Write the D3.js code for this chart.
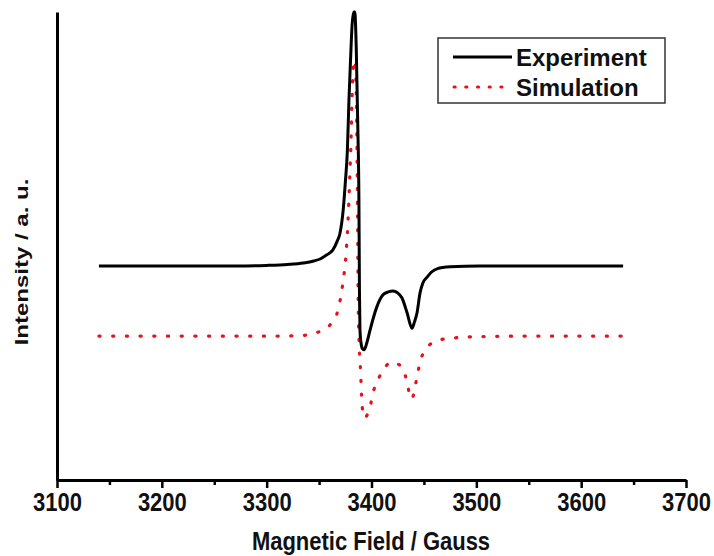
<!DOCTYPE html>
<html>
<head>
<meta charset="utf-8">
<script src="https://cdn.jsdelivr.net/npm/d3@7"></script>
<style>
  html, body { margin: 0; padding: 0; background: #fff; }
  svg { display: block; }
  text { font-family: "Liberation Sans", Arial, sans-serif; font-weight: bold; }
</style>
</head>
<body>
<svg id="chart" width="714" height="556"></svg>
<script>
// Magnetic field (Gauss) and intensity (a.u.)
const expField = [3140, 3200, 3250, 3280, 3300, 3320, 3335, 3345, 3351, 3357, 3363, 3367, 3370, 3373, 3375, 3377, 3378.5, 3380, 3381.5, 3383, 3384, 3385.5, 3387, 3388, 3388.5, 3389, 3390, 3391.5, 3393, 3395.5, 3398.6, 3402, 3405, 3411, 3416, 3420.5, 3425, 3429, 3434, 3438.6, 3441, 3443.4, 3446.3, 3449, 3453, 3457, 3462.5, 3475, 3503, 3550, 3640];
const expIntensity = [48.3, 48.3, 48.3, 48.3, 48.4, 48.6, 48.9, 49.3, 49.7, 50.5, 51.5, 53.2, 55.0, 59.7, 65.2, 71.9, 82.1, 90.2, 97.4, 100, 100, 92.3, 76.0, 61.7, 43.4, 35.2, 32.6, 31.4, 31.2, 32.6, 35.2, 37.9, 39.9, 42.4, 43.0, 43.2, 42.8, 41.8, 38.7, 35.6, 36.9, 38.7, 42.8, 44.8, 46.0, 47.0, 47.7, 48.1, 48.3, 48.3, 48.3];

const simField = [3140, 3250, 3300, 3332, 3349, 3362, 3368, 3372.8, 3375.7, 3376.6, 3377.6, 3378.5, 3379.5, 3380.5, 3381.4, 3382.4, 3383.3, 3384.5, 3385.2, 3386.2, 3386.8, 3387.2, 3388.1, 3389.5, 3390.5, 3391.5, 3393.8, 3395.7, 3399.5, 3402.2, 3408, 3413.8, 3418.6, 3423.4, 3430, 3433.9, 3436.7, 3438.6, 3440.6, 3443.4, 3446.3, 3452, 3457.7, 3464.4, 3477.7, 3490, 3503, 3550, 3640];
const simIntensity = [34.0, 34.0, 34.0, 34.1, 34.8, 36.7, 39.3, 45.0, 50.7, 53.6, 57.6, 62.1, 67.8, 73.9, 82.1, 87.8, 90.2, 89.4, 86.2, 71.9, 57.6, 43.4, 33.2, 27.3, 22.0, 18.9, 17.3, 17.9, 20.4, 23.0, 25.9, 27.9, 28.7, 28.5, 27.3, 24.6, 21.8, 21.2, 22.6, 25.7, 28.7, 31.4, 32.6, 33.2, 33.6, 33.8, 33.9, 34.0, 34.0];

const majorTicks = [3100, 3200, 3300, 3400, 3500, 3600, 3700];
const minorTicks = [3150, 3250, 3350, 3450, 3550, 3650];
const seriesNames = ["Experiment", "Simulation"];
const xTitle = "Magnetic Field / Gauss";
const yTitle = "Intensity / a. u.";

const svg = d3.select("#chart");
const x = d3.scaleLinear().domain([3100, 3700]).range([57, 686]);
const y = d3.scaleLinear().domain([4.7, 100]).range([480, 12]);
const yBase = y.range()[0];

const line = d3.line().x(d => x(d[0])).y(d => y(d[1])).curve(d3.curveMonotoneX);

const expData = expField.map((f, i) => [f, expIntensity[i]]);
const simData = simField.map((f, i) => [f, simIntensity[i]]);

// Minor ticks
const minorAxis = svg.append("g")
  .attr("transform", `translate(0,${yBase})`)
  .call(d3.axisBottom(x).tickValues(minorTicks).tickSize(5).tickSizeOuter(0).tickFormat(""));
minorAxis.select(".domain").remove();
minorAxis.selectAll("line").attr("stroke", "#000").attr("stroke-width", 2.5);

// Major ticks / bottom axis
const xAxis = svg.append("g")
  .attr("transform", `translate(0,${yBase})`)
  .call(d3.axisBottom(x).tickValues(majorTicks).tickSize(8).tickSizeOuter(0).tickFormat(d3.format("d")));
xAxis.select(".domain").attr("stroke", "#000").attr("stroke-width", 3);
xAxis.selectAll(".tick line").attr("stroke", "#000").attr("stroke-width", 2.5);
xAxis.selectAll(".tick text")
  .attr("y", 0).attr("dy", 0)
  .attr("transform", "translate(0,31) scale(1,1.15)")
  .attr("font-size", 22).attr("font-weight", "bold")
  .attr("font-family", "'Liberation Sans', Arial, sans-serif")
  .attr("fill", "#111");

// Left axis (line only)
const yAxis = svg.append("g")
  .attr("transform", `translate(${x(3100)},0)`)
  .call(d3.axisLeft(y).tickValues([]).tickSizeOuter(0));
yAxis.select(".domain").attr("stroke", "#000").attr("stroke-width", 3);

// Series
svg.append("path").datum(simData)
  .attr("d", line).attr("fill", "none")
  .attr("stroke", "#e8101a").attr("stroke-width", 3.2)
  .attr("stroke-linecap", "round").attr("stroke-dasharray", "1.2,12.5");

svg.append("path").datum(expData)
  .attr("d", line).attr("fill", "none")
  .attr("stroke", "#000").attr("stroke-width", 3);

// Axis titles
svg.append("text")
  .attr("transform", "translate(371,550) scale(1,1.15)")
  .attr("text-anchor", "middle").attr("font-size", 22).attr("fill", "#111")
  .text(xTitle);

svg.append("text")
  .attr("transform", "translate(28,262) rotate(-90) scale(1,0.78)")
  .attr("text-anchor", "middle").attr("font-size", 24).attr("fill", "#111")
  .text(yTitle);

// Legend
const lg = svg.append("g");
lg.append("rect").attr("x", 438).attr("y", 38).attr("width", 227).attr("height", 65)
  .attr("fill", "#fff").attr("stroke", "#333").attr("stroke-width", 1.5);
const legendY = [57, 87];
lg.append("line").attr("x1", 453).attr("x2", 512).attr("y1", legendY[0]).attr("y2", legendY[0])
  .attr("stroke", "#000").attr("stroke-width", 3);
lg.append("line").attr("x1", 454).attr("x2", 512).attr("y1", legendY[1]).attr("y2", legendY[1])
  .attr("stroke", "#e8101a").attr("stroke-width", 3).attr("stroke-linecap", "round")
  .attr("stroke-dasharray", "1.2,10.5");
seriesNames.forEach((n, i) => {
  lg.append("text").attr("x", 516).attr("y", legendY[i] + 8.5)
    .attr("font-size", 24).attr("fill", "#111").text(n);
});
</script>
</body>
</html>
